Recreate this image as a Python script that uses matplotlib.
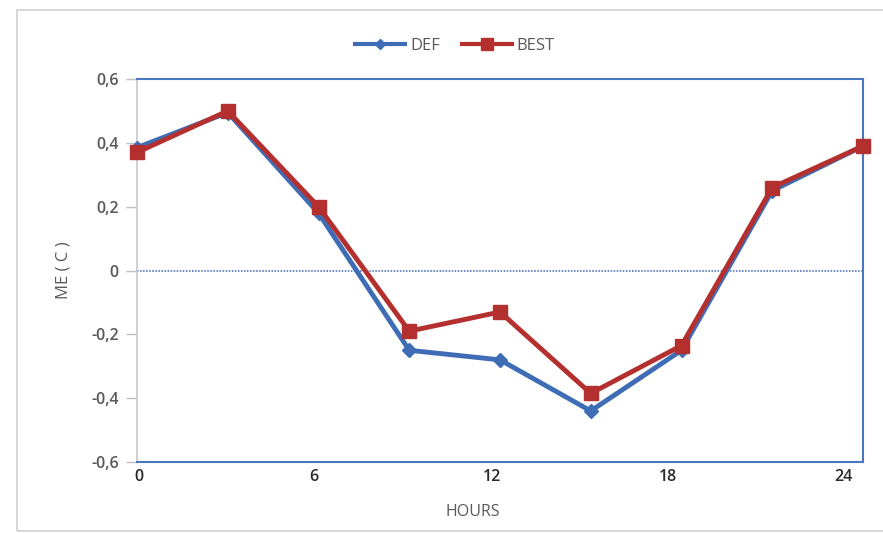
import matplotlib.pyplot as plt
from matplotlib.patches import Rectangle

# data
hours = [0, 3, 6, 9, 12, 15, 18, 21, 24]
def_me = [0.385, 0.495, 0.18, -0.25, -0.28, -0.44, -0.25, 0.25, 0.39]
best_me = [0.37, 0.50, 0.20, -0.19, -0.13, -0.385, -0.235, 0.26, 0.39]
# tick labels sit a little left of the data in the original (excel quirk)
xtick_pos = [0.05, 5.85, 11.75, 17.55, 23.35]
xtick_labels = ["0", "6", "12", "18", "24"]
yticks = [-0.6, -0.4, -0.2, 0, 0.2, 0.4, 0.6]
ytick_labels = ["-0,6", "-0,4", "-0,2", "0", "0,2", "0,4", "0,6"]

plt.rcParams['font.family'] = ['Open Sans', 'DejaVu Sans']
blue = "#3E6DB5"
red = "#B3302F"
txt = "#595959"

fig = plt.figure(figsize=(8.83, 5.33), dpi=100)
# outer chart border
fig.patches.append(Rectangle((17 / 883, 1 - 531 / 533), 1.0, 521 / 533,
                             transform=fig.transFigure, fill=False,
                             edgecolor="#D0D0D0", linewidth=1.2))
ax = fig.add_axes([137 / 883, 1 - 462 / 533, 726 / 883, 383 / 533])

ax.plot(hours, def_me, color=blue, lw=3.5, marker="D", markersize=7,
        label="DEF", zorder=3, clip_on=False)
ax.plot(hours, best_me, color=red, lw=3.5, marker="s", markersize=10,
        label="BEST", zorder=4, clip_on=False)
ax.axhline(0, color="#3A66B8", lw=1.1, ls=(0, (1, 1)), zorder=2)

ax.set_xlim(0, 24)
ax.set_ylim(-0.6, 0.6)
ax.set_xticks(xtick_pos)
ax.set_xticklabels(xtick_labels, fontsize=11.5, color="#2A2A2A",
                   fontweight="semibold")
ax.set_yticks(yticks)
ax.set_yticklabels(ytick_labels, fontsize=11.5, color=txt,
                   fontweight="semibold")
ax.tick_params(axis="x", length=0, pad=5)
ax.tick_params(axis="y", length=8, color="#BFBFBF", width=1, pad=5)

for s in ["top", "right", "bottom"]:
    ax.spines[s].set_color("#4A76BE")
    ax.spines[s].set_linewidth(1.5)
ax.spines["left"].set_color("#C8C8C8")
ax.spines["left"].set_linewidth(1.2)

ax.set_xlabel("HOURS", fontsize=11.5, color=txt)
ax.xaxis.set_label_coords(0.463, -0.11)
ax.set_ylabel("ME ( C )", fontsize=12, color=txt, labelpad=14)

leg = ax.legend(loc="center", bbox_to_anchor=(455 / 883, 1 - 46 / 533),
                bbox_transform=fig.transFigure, ncol=2, frameon=False,
                fontsize=12, handlelength=3.0, columnspacing=1.3,
                handletextpad=0.3, markerscale=0.8, labelcolor=txt)
for h in leg.get_lines():
    h.set_linewidth(3)

fig.savefig("out.png", dpi=100)
